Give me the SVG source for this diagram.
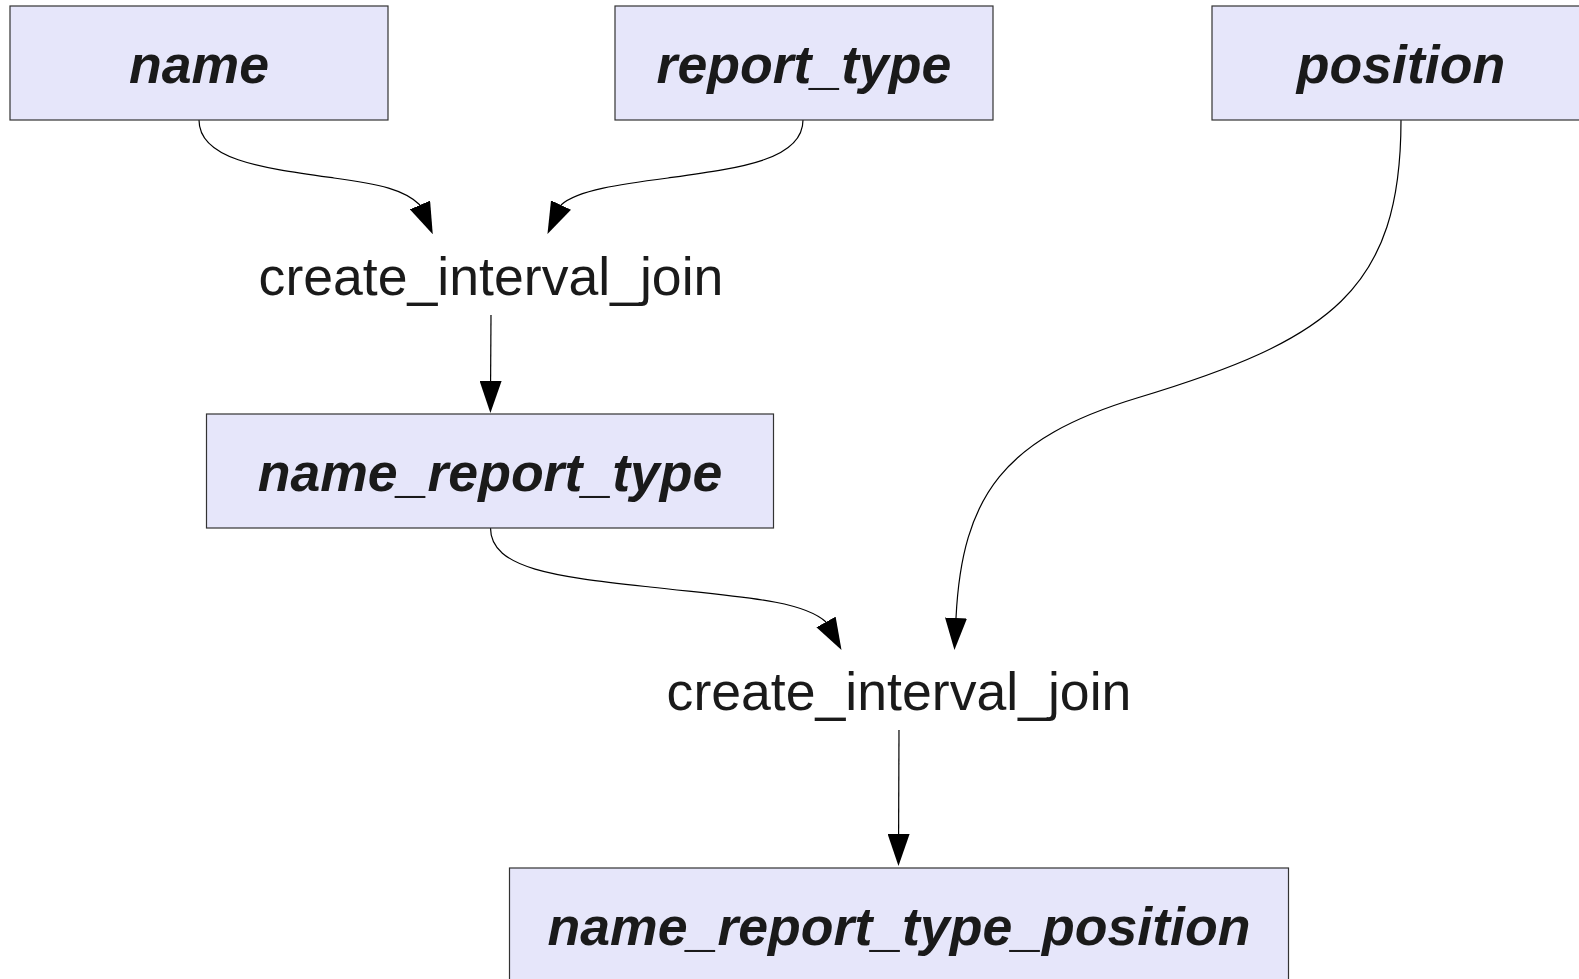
<svg xmlns="http://www.w3.org/2000/svg" width="1579" height="979" viewBox="0 0 1579 979">
<style>
.box{fill:#e6e6fa;stroke:#333333;stroke-width:1.2}
.lbl{font-family:"Liberation Sans",Arial,sans-serif;font-size:53.6px;font-weight:bold;font-style:italic;fill:#1a1a1a;text-anchor:middle}
.op{font-family:"Liberation Sans",Arial,sans-serif;font-size:53.6px;fill:#1a1a1a;text-anchor:middle}
.edge{fill:none;stroke:#000000;stroke-width:1.2}
.head{fill:#000000}
</style>
<defs>
<marker id="arr" viewBox="0 0 32 22" refX="0" refY="11" markerWidth="32" markerHeight="22" markerUnits="userSpaceOnUse" orient="auto">
<path class="head" d="M0,0 L32,11 L0,22 z"/>
</marker>
<marker id="arrA" viewBox="0 0 32 22" refX="0" refY="11" markerWidth="32" markerHeight="22" markerUnits="userSpaceOnUse" orient="66.5">
<path class="head" d="M0,0 L32,11 L0,22 z"/>
</marker>
<marker id="arrB" viewBox="0 0 32 22" refX="0" refY="11" markerWidth="32" markerHeight="22" markerUnits="userSpaceOnUse" orient="115">
<path class="head" d="M0,0 L32,11 L0,22 z"/>
</marker>
<marker id="arrC" viewBox="0 0 32 22" refX="0" refY="11" markerWidth="32" markerHeight="22" markerUnits="userSpaceOnUse" orient="61">
<path class="head" d="M0,0 L32,11 L0,22 z"/>
</marker>
</defs>
<rect width="1579" height="979" fill="#ffffff"/>
<g id="connectors">
<path class="edge" marker-end="url(#arrA)" d="M199,120 C199,160 262,168 334,178 C380,184 405,190 420,205"/>
<path class="edge" marker-end="url(#arrB)" d="M803,120 C803,160 740,168 668,178 C622,184 577,190 561,205"/>
<path class="edge" marker-end="url(#arr)" d="M491,315 L490.6,381"/>
<path class="edge" marker-end="url(#arrC)" d="M490.5,528 C490.5,570 560,577 650,587 C740,597 802,600 826,622"/>
<path class="edge" marker-end="url(#arr)" d="M1401,120 C1401,290 1330,340 1137,398 C1005,438 962,495 956,618"/>
<path class="edge" marker-end="url(#arr)" d="M899,730 L898.6,834"/>
</g>
<g id="name"><rect class="box" x="10" y="6" width="378" height="114"/><text class="lbl" x="199" y="83">name</text></g>
<g id="report_type"><rect class="box" x="615" y="6" width="378" height="114"/><text class="lbl" x="804" y="83">report_type</text></g>
<g id="position"><rect class="box" x="1212" y="6" width="378" height="114"/><text class="lbl" x="1401" y="83">position</text></g>
<g id="join1"><text class="op" x="491" y="295">create_interval_join</text></g>
<g id="name_report_type"><rect class="box" x="206.5" y="414" width="567" height="114"/><text class="lbl" x="490" y="491">name_report_type</text></g>
<g id="join2"><text class="op" x="899" y="710">create_interval_join</text></g>
<g id="name_report_type_position"><rect class="box" x="509.5" y="868" width="779" height="114"/><text class="lbl" x="899" y="945">name_report_type_position</text></g>
</svg>
